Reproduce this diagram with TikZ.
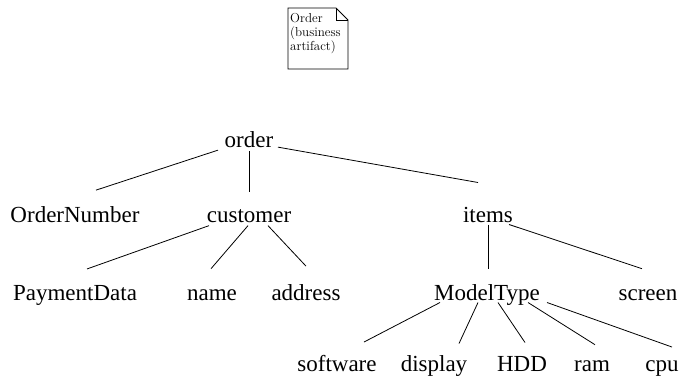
\documentclass[tikz,border=0pt]{standalone}
\usepackage{fontspec}
\newfontfamily\treefont{Liberation Serif}
\usetikzlibrary{calc}
\begin{document}
\begin{tikzpicture}[x=1pt,y=-1pt,
  tn/.style={font=\treefont\fontsize{23}{26}\selectfont, inner sep=0pt, anchor=base},
  edge/.style={draw=black, line width=0.8pt},
  note/.style={draw=black, line width=0.8pt},
  notetxt/.style={anchor=base west, inner sep=0pt, font=\fontsize{13}{15}\selectfont}]
\useasboundingbox (0,0) rectangle (687,376);
% note
\draw[note] (288,8) -- (336,8) -- (348,20) -- (348,69) -- (288,69) -- cycle;
\draw[note] (336,8) -- (336,20) -- (348,20);
\node[notetxt] (n1) at (290,22) {Order};
\node[notetxt] (n2) at (290,36) {(business};
\node[notetxt] (n3) at (290,50) {artifact)};
% tree nodes
\node[tn] (order) at (249,147) {order};
\node[tn] (OrderNumber) at (75,222) {OrderNumber};
\node[tn] (customer) at (249,222) {customer};
\node[tn] (items) at (488,222) {items};
\node[tn] (PaymentData) at (75,300) {PaymentData};
\node[tn] (name) at (212,300) {name};
\node[tn] (address) at (306,300) {address};
\node[tn] (ModelType) at (487,300) {ModelType};
\node[tn] (screen) at (648,300) {screen};
\node[tn] (software) at (337,371) {software};
\node[tn] (display) at (434,371) {display};
\node[tn] (HDD) at (522,371) {HDD};
\node[tn] (ram) at (592,371) {ram};
\node[tn] (cpu) at (662,371) {cpu};
% edges
\draw[edge] ($(order)+(-31,11)$) -- ($(OrderNumber)+(21,-24)$);
\draw[edge] ($(order)+(0,12)$) -- ($(customer)+(0,-24)$);
\draw[edge] ($(order)+(29,8)$) -- ($(items)+(-10,-32)$);
\draw[edge] ($(customer)+(-40,10)$) -- ($(PaymentData)+(12,-26)$);
\draw[edge] ($(customer)+(-1,10)$) -- ($(name)+(-1,-26)$);
\draw[edge] ($(customer)+(19,10)$) -- ($(address)+(0,-26)$);
\draw[edge] ($(items)+(0,10)$) -- ($(ModelType)+(1,-26)$);
\draw[edge] ($(items)+(21,10)$) -- ($(screen)+(-6,-26)$);
\draw[edge] ($(ModelType)+(-47,8)$) -- ($(software)+(27,-21)$);
\draw[edge] ($(ModelType)+(-9,8)$) -- ($(display)+(25,-22)$);
\draw[edge] ($(ModelType)+(11,8)$) -- ($(HDD)+(3,-21)$);
\draw[edge] ($(ModelType)+(41,8)$) -- ($(ram)+(3,-21)$);
\draw[edge] ($(ModelType)+(60,8)$) -- ($(cpu)+(10,-21)$);
\end{tikzpicture}
\end{document}
